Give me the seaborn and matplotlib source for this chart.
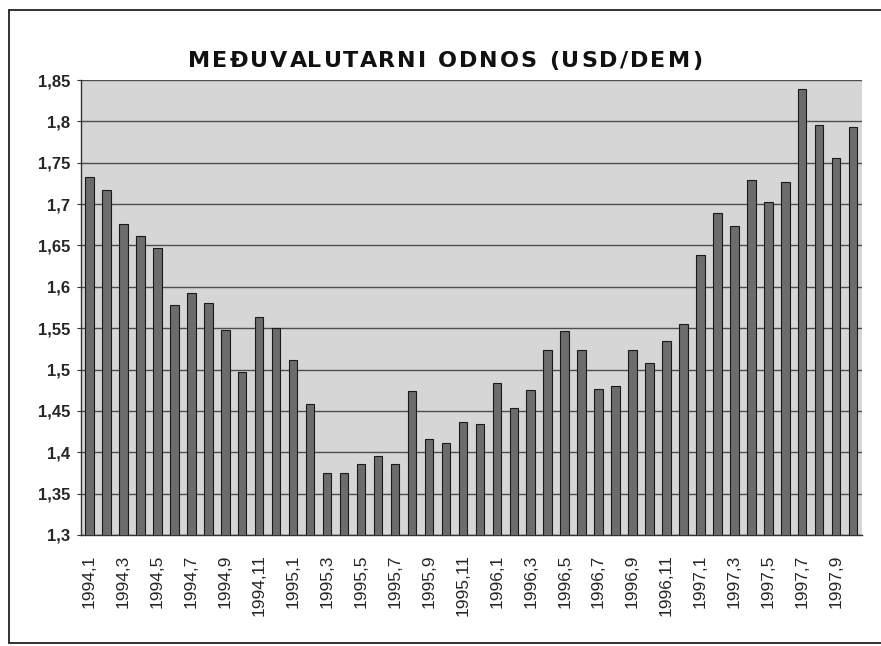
"""Međuvalutarni odnos USD/DEM - stupčasti grafikon."""

import matplotlib.pyplot as plt
from matplotlib.lines import Line2D
import pandas as pd
import seaborn as sns

# 数据
months = (
    [f"1994,{m}" for m in range(1, 13)]
    + [f"1995,{m}" for m in range(1, 13)]
    + [f"1996,{m}" for m in range(1, 13)]
    + [f"1997,{m}" for m in range(1, 11)]
)
rates = [
    1.733, 1.717, 1.676, 1.662, 1.647, 1.578, 1.593, 1.580, 1.548, 1.497, 1.563, 1.550,
    1.512, 1.458, 1.375, 1.375, 1.386, 1.396, 1.386, 1.474, 1.416, 1.411, 1.437, 1.434,
    1.484, 1.454, 1.475, 1.523, 1.546, 1.523, 1.477, 1.480, 1.523, 1.508, 1.534, 1.555,
    1.639, 1.689, 1.674, 1.729, 1.703, 1.727, 1.839, 1.796, 1.756, 1.793,
]
y_ticks = [1.3, 1.35, 1.4, 1.45, 1.5, 1.55, 1.6, 1.65, 1.7, 1.75, 1.8, 1.85]
title = "MEĐUVALUTARNI ODNOS (USD/DEM)"

df = pd.DataFrame({"mjesec": months, "tecaj": rates})

sns.set_style("white")
plt.rcParams["font.family"] = ["Liberation Sans", "DejaVu Sans"]

fig = plt.figure(figsize=(8.81, 6.46), dpi=100)
ax = fig.add_axes([0.092, 0.172, 0.886, 0.704])
ax.set_facecolor("#d6d6d6")

sns.barplot(
    data=df, x="mjesec", y="tecaj", color="#6c6c6c",
    edgecolor="#1a1a1a", linewidth=0.8, width=0.5, saturation=1, ax=ax, zorder=3,
)

ax.set_ylim(1.3, 1.85)
ax.set_xlim(-0.5, len(months) - 0.5)
ax.set_yticks(y_ticks)
ax.set_yticklabels([f"{v:g}".replace(".", ",") for v in y_ticks],
                   fontsize=12, fontweight="bold")
ax.yaxis.grid(True, color="#4d4d4d", linewidth=1.0, zorder=1)
ax.set_axisbelow(True)

# x轴标签：每隔一个显示
ax.set_xticks(range(0, len(months), 2))
ax.set_xticklabels(months[::2], rotation=90, fontsize=12.5)
ax.set_xticks([i - 0.5 for i in range(len(months) + 1)], minor=True)
ax.tick_params(axis="x", which="major", length=0, pad=14)
ax.tick_params(axis="x", which="minor", length=4, width=0.8, color="#333333")
ax.tick_params(axis="y", length=3, width=0.8, color="#333333", pad=5, left=True)

ax.set_xlabel("")
ax.set_ylabel("")
for side in ["top", "right"]:
    ax.spines[side].set_visible(False)
for side in ["left", "bottom"]:
    ax.spines[side].set_color("#333333")
    ax.spines[side].set_linewidth(1.0)

# 标题：加宽字距
renderer = fig.canvas.get_renderer()
W, H = fig.bbox.width, fig.bbox.height
tprops = dict(fontsize=16, fontweight="bold", family=["DejaVu Sans"])


def text_width(s):
    t = fig.text(0, 0, "|" + s + "|", **tprops)
    w = t.get_window_extent(renderer).width
    t.remove()
    return w


base_w = text_width("")
prefix = [text_width(title[:i]) - base_w for i in range(len(title) + 1)]
target = 514
tracking = (target - prefix[-1]) / (len(title) - 1)
x0 = 445 - target / 2
for i, ch in enumerate(title):
    if ch == " ":
        continue
    fig.text((x0 + prefix[i] + i * tracking) / W, 1 - 61 / H, ch,
             ha="left", va="center", color="#111111", **tprops)

# 外框
frame = dict(transform=fig.transFigure, color="#222222", linewidth=1.3)
fig.lines.append(Line2D([9 / W, 9 / W], [1 - 10 / H, 1 - 643 / H], **frame))
fig.lines.append(Line2D([9 / W, 1], [1 - 10 / H, 1 - 10 / H], **frame))
fig.lines.append(Line2D([9 / W, 1], [1 - 643 / H, 1 - 643 / H], **frame))

fig.savefig("out.png", dpi=100)
